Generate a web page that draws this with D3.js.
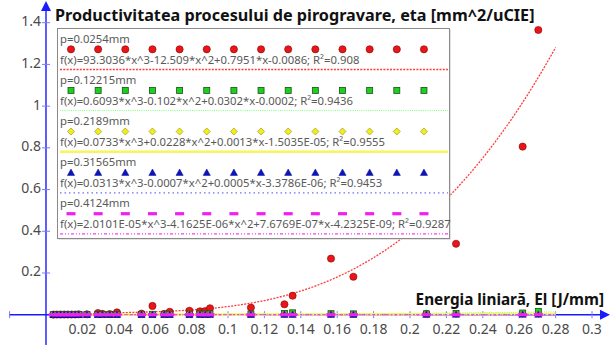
<!DOCTYPE html>
<html>
<head>
<meta charset="utf-8">
<script src="https://cdn.jsdelivr.net/npm/d3@7"></script>
<style>
  html, body { margin: 0; padding: 0; background: #fff; }
  svg { display: block; font-family: "Noto Sans", "Open Sans", sans-serif; }
</style>
</head>
<body>
<svg id="chart" width="611" height="345"></svg>
<script>
// Linear energy El [J/mm] of each test track
const energy = [0.004, 0.006, 0.008, 0.010, 0.012, 0.014, 0.016, 0.018, 0.0225, 0.0285,
                0.031, 0.035, 0.039, 0.0525, 0.0585, 0.065, 0.068, 0.0788, 0.0846, 0.0874,
                0.0901, 0.1126, 0.131, 0.1355, 0.1566, 0.1689, 0.209, 0.2253, 0.2619, 0.2705];

// Productivity eta [mm^2/uCIE] for each line pitch p
const etaP0254 = [0.0005, 0.001, 0.001, 0.001, 0.001, 0.001, 0.001, 0.002, 0.002, 0.008,
                  0.004, 0.003, 0.011, 0.005, 0.042, 0.004, 0.014, 0.019, 0.016, 0.017,
                  0.031, 0.034, 0.050, 0.091, 0.269, 0.182, 0.004, 0.340, 0.806, 1.365];
const etaP12215 = [0.0002, 0.0003, 0.0003, 0.0004, 0.0004, 0.0005, 0.0005, 0.0006, 0.0007, 0.001,
                   0.001, 0.001, 0.001, 0.0015, 0.002, 0.002, 0.002, 0.002, 0.003, 0.003,
                   0.004, 0.003, 0.006, 0.009, 0.005, 0.004, 0.004, 0.006, 0.008, 0.016];
const etaP2189 = [0.0001, 0.0001, 0.0001, 0.0001, 0.0001, 0.0002, 0.0002, 0.0002, 0.0002, 0.0003,
                  0.0003, 0.0003, 0.0003, 0.0004, 0.0005, 0.0005, 0.0005, 0.0006, 0.0006, 0.0006,
                  0.0007, 0.0008, 0.0010, 0.0012, 0.0012, 0.0013, 0.0015, 0.0018, 0.0022, 0.0025];
const etaP31565 = [0.00005, 0.00005, 0.00005, 0.00005, 0.0001, 0.0001, 0.0001, 0.0001, 0.0001, 0.0001,
                   0.0001, 0.0001, 0.0001, 0.0002, 0.0002, 0.0002, 0.0002, 0.0002, 0.0003, 0.0003,
                   0.0003, 0.0003, 0.0004, 0.0004, 0.0005, 0.0005, 0.0006, 0.0007, 0.0008, 0.0009];
const etaP4124 = [0, 0, 0, 0, 0, 0, 0, 0, 0, 0,
                  0, 0, 0, 0, 0, 0, 0, 0, 0, 0,
                  0, 0, 0, 0, 0, 0, 0, 0, 0, 0];

// Cubic trend line coefficients [a3, a2, a1, a0]
const fitP0254 = [93.3036, -12.509, 0.7951, -0.0086];
const fitP12215 = [0.6093, -0.102, 0.0302, -0.0002];
const fitP2189 = [0.0733, 0.0228, 0.0013, -1.5035e-05];
const fitP31565 = [0.0313, -0.0007, 0.0005, -3.3786e-06];
const fitP4124 = [2.0101e-05, -4.1625e-06, 7.6769e-07, -4.2325e-09];

const seriesNames = ["p=0.0254mm", "p=0.12215mm", "p=0.2189mm", "p=0.31565mm", "p=0.4124mm"];
const fitLabels = [
  "f(x)=93.3036*x^3-12.509*x^2+0.7951*x-0.0086; R\u00B2=0.908",
  "f(x)=0.6093*x^3-0.102*x^2+0.0302*x-0.0002; R\u00B2=0.9436",
  "f(x)=0.0733*x^3+0.0228*x^2+0.0013*x-1.5035E-05; R\u00B2=0.9555",
  "f(x)=0.0313*x^3-0.0007*x^2+0.0005*x-3.3786E-06; R\u00B2=0.9453",
  "f(x)=2.0101E-05*x^3-4.1625E-06*x^2+7.6769E-07*x-4.2325E-09; R\u00B2=0.9287"
];
const xTicks = [-0.02, 0.02, 0.04, 0.06, 0.08, 0.1, 0.12, 0.14, 0.16, 0.18, 0.2, 0.22, 0.24, 0.26, 0.28, 0.3];
const yTicks = [0.2, 0.4, 0.6, 0.8, 1, 1.2, 1.4];
const fitRange = [0.004, 0.28];

const seriesValues = [etaP0254, etaP12215, etaP2189, etaP31565, etaP4124];
const fitCoeffs = [fitP0254, fitP12215, fitP2189, fitP31565, fitP4124];

const styles = [
  { marker: "circle",   fill: "#e8161b", stroke: "#8a0000", line: "#ff3b3b", width: 1.3, dash: "2,1.3" },
  { marker: "square",   fill: "#19d219", stroke: "#1f4f1f", line: "#7dff7d", width: 1.0, dash: "1,1.2" },
  { marker: "diamond",  fill: "#f2ee16", stroke: "#8d8a1c", line: "#f8f460", width: 2.6, dash: null },
  { marker: "triangle", fill: "#0a14c8", stroke: "#0a0a70", line: "#6b6bff", width: 1.3, dash: "1.5,3" },
  { marker: "bar",      fill: "#f21ef2", stroke: "#f21ef2", line: "#ff3bff", width: 1.2, dash: "3,2,1,2,1,2" }
];

const svg = d3.select("#chart");
const x = d3.scaleLinear().domain([0, 0.3]).range([46, 592]);
const y = d3.scaleLinear().domain([0, 1.4]).range([314.7, 22.7]);
const axisColor = "#1a1aff";

function cubic(c, v) { return c[0] * v * v * v + c[1] * v * v + c[2] * v + c[3]; }

function drawMarker(g, type, cx, cy, st) {
  if (type === "circle") {
    g.append("circle").attr("cx", cx).attr("cy", cy).attr("r", 3.6)
      .attr("fill", st.fill).attr("stroke", st.stroke).attr("stroke-width", 0.6);
  } else if (type === "square") {
    g.append("rect").attr("x", cx - 3).attr("y", cy - 3).attr("width", 6).attr("height", 6)
      .attr("fill", st.fill).attr("stroke", st.stroke).attr("stroke-width", 0.8);
  } else if (type === "diamond") {
    g.append("path").attr("d", `M${cx},${cy - 3.5}L${cx + 3.5},${cy}L${cx},${cy + 3.5}L${cx - 3.5},${cy}Z`)
      .attr("fill", st.fill).attr("stroke", st.stroke).attr("stroke-width", 0.6);
  } else if (type === "triangle") {
    g.append("path").attr("d", `M${cx},${cy - 3.6}L${cx + 3.6},${cy + 2.8}L${cx - 3.6},${cy + 2.8}Z`)
      .attr("fill", st.fill).attr("stroke", st.stroke).attr("stroke-width", 0.5);
  } else {
    g.append("rect").attr("x", cx - 4.5).attr("y", cy - 1.6).attr("width", 9).attr("height", 3.2)
      .attr("fill", st.fill);
  }
}

// Axes crossing at the origin
const axes = svg.append("g");
axes.append("line").attr("x1", 9).attr("x2", 603).attr("y1", y(0)).attr("y2", y(0))
  .attr("stroke", axisColor).attr("stroke-width", 1.4);
axes.append("path").attr("d", `M610,${y(0)}L600,${y(0) - 5}L600,${y(0) + 5}Z`).attr("fill", axisColor);
axes.append("line").attr("x1", x(0)).attr("x2", x(0)).attr("y1", 345).attr("y2", 8)
  .attr("stroke", axisColor).attr("stroke-width", 1.4);
axes.append("path").attr("d", `M${x(0)},1L${x(0) - 5},11L${x(0) + 5},11Z`).attr("fill", axisColor);

axes.selectAll(".xt").data(xTicks).join("line")
  .attr("x1", d => x(d)).attr("x2", d => x(d)).attr("y1", y(0) - 3.5).attr("y2", y(0) + 3.5)
  .attr("stroke", "#7a7aff").attr("stroke-width", 1);
axes.selectAll(".yt").data(yTicks).join("line")
  .attr("x1", x(0) - 4).attr("x2", x(0) + 4).attr("y1", d => y(d)).attr("y2", d => y(d))
  .attr("stroke", "#7a7aff").attr("stroke-width", 1);

const fmt = d => String(+d.toFixed(2));
axes.selectAll(".xl").data(xTicks.filter(d => d > 0)).join("text")
  .attr("x", d => x(d)).attr("y", 334).attr("text-anchor", "middle")
  .attr("font-size", 14).attr("fill", "#4a4a4a").text(fmt);
axes.selectAll(".yl").data(yTicks).join("text")
  .attr("x", 41).attr("y", d => y(d) + 3.5).attr("text-anchor", "end")
  .attr("font-size", 14).attr("fill", "#4a4a4a").text(fmt);

// Trend lines
const line = d3.line().x(d => x(d[0])).y(d => y(d[1]));
const fitG = svg.append("g");
fitCoeffs.forEach((c, i) => {
  const pts = d3.range(0, 201).map(k => {
    const v = fitRange[0] + (fitRange[1] - fitRange[0]) * k / 200;
    return [v, cubic(c, v)];
  });
  fitG.append("path").attr("d", line(pts)).attr("fill", "none")
    .attr("stroke", styles[i].line).attr("stroke-width", styles[i].width)
    .attr("stroke-dasharray", styles[i].dash);
});

// Measured points
const ptG = svg.append("g");
seriesValues.forEach((vals, i) => {
  vals.forEach((v, k) => drawMarker(ptG, styles[i].marker, x(energy[k]), y(v), styles[i]));
});

// Legend
const lg = svg.append("g");
lg.append("rect").attr("x", 58.5).attr("y", 29.5).attr("width", 392).attr("height", 210)
  .attr("fill", "#c8c8c8");
lg.append("rect").attr("x", 57.5).attr("y", 28.5).attr("width", 392).attr("height", 210)
  .attr("fill", "#fff").attr("stroke", "#8a8a8a").attr("stroke-width", 1);
seriesNames.forEach((name, i) => {
  const top = 43 + i * 41.1;
  lg.append("text").attr("x", 60).attr("y", top).attr("font-size", 11.3).attr("fill", "#595959").text(name);
  d3.range(14).forEach(k => drawMarker(lg, styles[i].marker, 71 + k * 27.15, top + 6.3, styles[i]));
  lg.append("text").attr("x", 60).attr("y", top + 20.5).attr("font-size", 11.3).attr("fill", "#595959").text(fitLabels[i]);
  lg.append("line").attr("x1", 60).attr("x2", 448).attr("y1", top + 26.5).attr("y2", top + 26.5)
    .attr("stroke", styles[i].line).attr("stroke-width", styles[i].width)
    .attr("stroke-dasharray", styles[i].dash);
});

// Titles
svg.append("text").attr("x", 55).attr("y", 20.5).attr("font-size", 16.2).attr("font-weight", "bold")
  .attr("fill", "#111").text("Productivitatea procesului de pirogravare, eta [mm^2/uCIE]");
svg.append("text").attr("x", 604).attr("y", 305).attr("text-anchor", "end").attr("font-size", 15.3)
  .attr("font-weight", "bold").attr("fill", "#111").text("Energia liniară, El [J/mm]");
</script>
</body>
</html>
